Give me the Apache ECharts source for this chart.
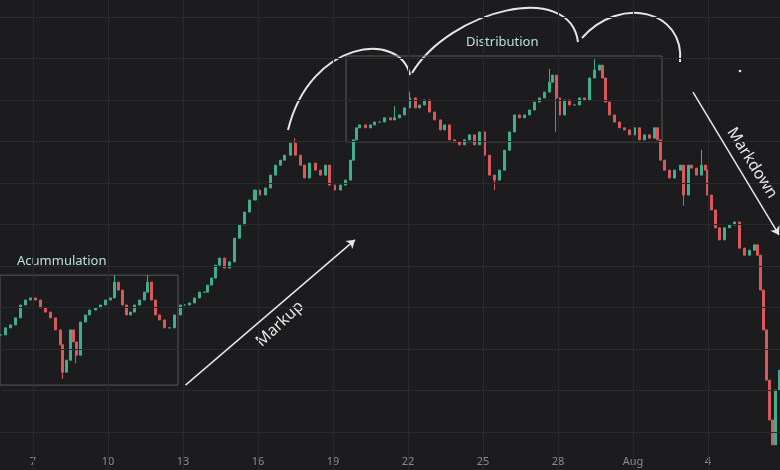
<!DOCTYPE html>
<html><head><meta charset="utf-8">
<script src="https://cdn.jsdelivr.net/npm/echarts@6/dist/echarts.min.js"></script>
<style>html,body{margin:0;background:#1c1c1e}#c{width:780px;height:470px}</style>
</head><body><div id="c"></div>
<script>
const times=[5.68,5.88,6.08,6.28,6.48,6.68,6.88,7.08,7.28,7.48,7.68,7.88,8.08,8.2,8.32,8.48,8.6,8.72,8.88,9.08,9.28,9.48,9.68,9.88,10.08,10.28,10.4,10.56,10.72,10.88,11.08,11.28,11.48,11.6,11.72,11.88,12.08,12.28,12.48,12.68,12.88,13.08,13.28,13.48,13.68,13.88,14.0,14.16,14.32,14.48,14.68,14.88,15.08,15.28,15.48,15.68,15.88,16.08,16.28,16.48,16.68,16.88,17.08,17.28,17.48,17.68,17.88,18.08,18.28,18.48,18.68,18.88,19.08,19.28,19.48,19.68,19.8,19.92,20.08,20.28,20.48,20.68,20.88,21.08,21.28,21.48,21.68,21.88,22.08,22.28,22.48,22.68,22.88,23.08,23.28,23.48,23.68,23.88,24.08,24.28,24.48,24.68,24.88,25.08,25.28,25.48,25.68,25.88,26.08,26.28,26.48,26.68,26.88,27.08,27.28,27.48,27.68,27.8,27.92,28.08,28.28,28.48,28.68,28.88,29.08,29.28,29.48,29.68,29.8,29.92,30.08,30.28,30.48,30.68,30.88,31.08,31.28,31.48,31.68,31.88,32.0,32.12,32.28,32.48,32.68,32.88,33.04,33.2,33.36,33.56,33.76,33.88,34.0,34.16,34.32,34.48,34.68,34.88,35.08,35.28,35.48,35.68,35.88,36.0,36.12,36.24,36.36,36.48,36.6,36.72,36.84];
const closes=[33.4,35.1,35.8,37.5,40.6,41.8,42.3,41.8,39.9,38.9,37.5,34.6,31.0,24.4,27.3,34.6,31.7,28.5,36.5,38.2,39.4,39.9,40.6,41.8,42.3,46.1,44.2,40.6,38.2,38.9,40.6,41.8,43.7,46.1,41.8,38.2,37.0,35.1,35.1,38.2,40.6,40.6,41.1,42.3,43.7,43.7,45.4,47.1,50.2,51.9,49.5,51.0,56.7,59.9,63.0,65.9,68.3,67.1,68.8,71.9,74.3,75.5,76.7,79.6,76.7,74.3,71.2,74.8,73.1,71.9,74.3,69.5,68.3,69.5,70.7,75.5,80.4,83.3,84.0,83.3,84.0,84.7,84.7,85.7,85.2,85.7,86.4,88.1,90.5,88.1,88.8,90.0,87.1,85.2,82.8,84.0,80.4,79.9,79.2,80.4,81.6,79.2,82.3,76.7,71.9,70.7,73.1,77.9,82.3,86.4,85.7,86.4,87.6,89.5,90.5,91.9,94.3,96.0,90.5,86.4,90.0,88.8,88.8,90.5,90.0,95.3,97.2,98.4,95.3,89.5,86.4,84.7,83.3,82.8,81.6,83.3,80.4,81.6,80.8,83.3,80.4,75.5,73.1,71.2,73.1,74.3,67.1,74.3,73.6,71.9,74.3,73.1,67.1,63.5,59.2,56.3,59.2,59.9,60.6,54.3,52.6,53.8,55.1,52.6,44.2,34.6,22.5,12.9,6.9,20.1,24.9];
const spikes={13:[22.8,null],17:[26.6,null],25:[null,47.8],33:[null,47.8],64:[null,80.8],85:[null,88.5],88:[null,92],105:[68.3,null],116:[null,97.5],118:[82.3,null],126:[null,99.8],146:[64.5,null],150:[null,78.0],173:[5.0,null]};
const xTicks=[7,10,13,16,19,22,25,28,31,34];
const xTickText=['7','10','13','16','19','22','25','28','Aug','4'];
const yGrid=[10,20,30,40,50,60,70,80,90,100,110];
const labelLevel=2.8;

const candles=times.map((t,i)=>{
  const o=i?closes[i-1]:closes[0], c=closes[i];
  const s=spikes[i]||[null,null];
  const lo=s[0]!=null?Math.min(s[0],o,c):Math.min(o,c);
  const hi=s[1]!=null?Math.max(s[1],o,c):Math.max(o,c);
  return [t,o,c,lo,hi];
});
const chart=echarts.init(document.getElementById('c'));
const ann='#e6e6e6', gridC='#2a2a2d';
chart.setOption({
  backgroundColor:'#1c1c1e',animation:false,
  grid:{left:0,right:0,top:0,bottom:0},
  xAxis:{type:'value',min:5.68,max:36.88,show:false,splitLine:{show:false}},
  yAxis:{type:'value',min:0.84,max:114.1,show:false,splitLine:{show:false}},
  series:[
   {type:'line',data:[],silent:true,
    markLine:{silent:true,symbol:'none',animation:false,lineStyle:{color:gridC,width:1,type:'solid'},label:{show:false},
      data:xTicks.map(v=>({xAxis:v})).concat(yGrid.map(v=>({yAxis:v})))}},
   {type:'candlestick',data:candles,barWidth:2.5,
    itemStyle:{color:'#3fae8c',color0:'#d9585c',borderColor:'#3fae8c',borderColor0:'#d9585c',borderWidth:1},
    markArea:{silent:true,itemStyle:{color:'rgba(0,0,0,0)',borderColor:'#5a5a5e',borderWidth:1},
      data:[[{coord:[5.0,21.3]},{coord:[12.8,47.8]}],[{coord:[19.52,79.9]},{coord:[32.16,100.6]}]]},
    markLine:{silent:true,symbol:['none','arrow'],symbolSize:8,lineStyle:{color:ann,width:1.5,type:'solid'},label:{show:false},
      data:[[{coord:[13.1,21.3]},{coord:[19.88,56.3]}],[{coord:[33.4,91.9]},{coord:[36.84,57.5]}]]}},
   {type:'scatter',symbolSize:0,silent:true,data:xTicks.map((v,i)=>[v,labelLevel,xTickText[i]]),
    label:{show:true,position:'inside',formatter:p=>p.data[2],color:'#a8a8a8',fontSize:11,fontFamily:'Noto Sans'}}
  ],
  graphic:[
    {type:'text',left:17,top:255,style:{text:'Acummulation',fill:'#b8e0dc',font:'13px "Noto Sans"'}},
    {type:'text',left:466,top:36,style:{text:'Distribution',fill:'#b8e0dc',font:'13px "Noto Sans"'}},
    {type:'text',x:280,y:324,rotation:Math.PI*0.24,style:{text:'Markup',fill:ann,font:'16px "Noto Sans"',align:'center',verticalAlign:'middle'}},
    {type:'text',x:752,y:163,rotation:-Math.PI*0.32,style:{text:'Markdown',fill:ann,font:'16px "Noto Sans"',align:'center',verticalAlign:'middle'}},
    {type:'bezierCurve',shape:{x1:288,y1:130,x2:410,y2:75,cpx1:310,cpy1:40,cpx2:400,cpy2:30},style:{stroke:ann,lineWidth:2,fill:null}},
    {type:'bezierCurve',shape:{x1:412,y1:73,x2:578,y2:42,cpx1:450,cpy1:10,cpx2:570,cpy2:-20},style:{stroke:ann,lineWidth:2,fill:null}},
    {type:'bezierCurve',shape:{x1:582,y1:38,x2:680,y2:62,cpx1:620,cpy1:-5,cpx2:685,cpy2:10},style:{stroke:ann,lineWidth:2,fill:null}},
    {type:'circle',shape:{cx:740,cy:71,r:1.3},style:{fill:ann}}
  ]
});
</script></body></html>
